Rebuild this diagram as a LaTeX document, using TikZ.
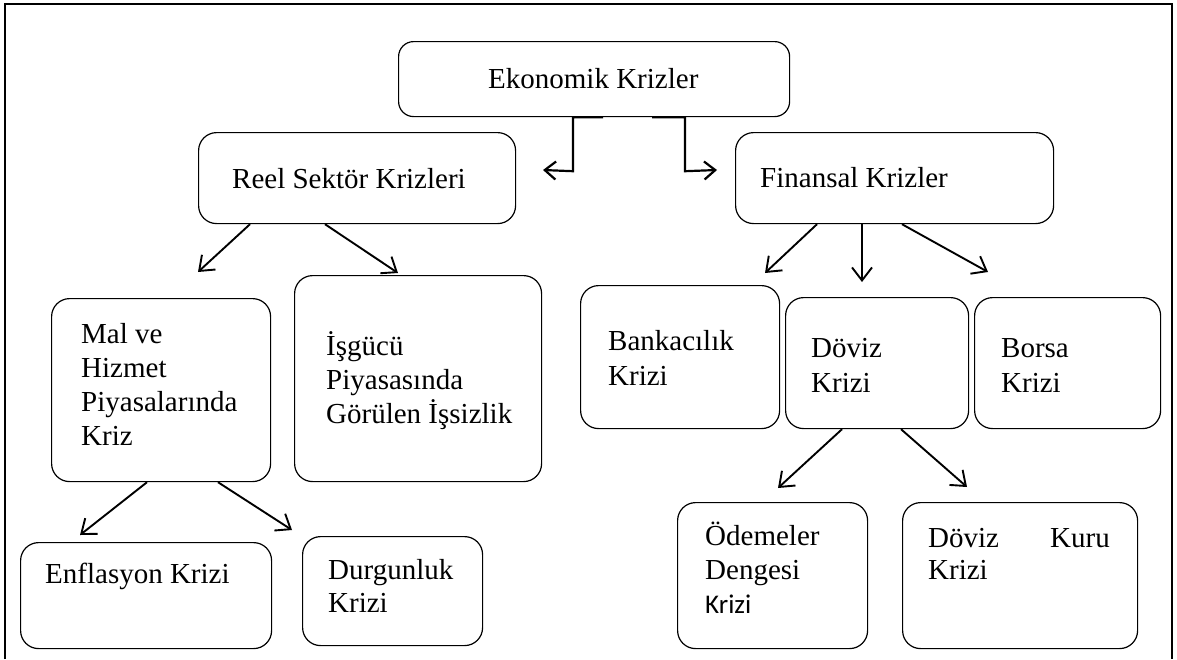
\documentclass[tikz,border=0pt]{standalone}
\usepackage{fontspec}
\setmainfont{Liberation Serif}
\newfontfamily\calfont{Carlito}
\usetikzlibrary{arrows.meta}
\begin{document}
\begin{tikzpicture}[x=1pt,y=-1pt,
  box/.style={draw, line width=1.2pt, rounded corners=18pt, inner sep=0pt, anchor=north west},
  txt/.style={anchor=base west, inner sep=0pt, font=\fontsize{29}{34}\selectfont},
  ctxt/.style={anchor=base west, inner sep=0pt, font=\calfont\fontsize{27}{32}\selectfont},
  arr/.style={line width=1.9pt, -{Straight Barb[length=13pt,width=20pt,line width=1.9pt]}},
  elb/.style={line width=2.2pt, -{Straight Barb[length=11pt,width=18pt,line width=2.2pt]}}]
\useasboundingbox (0,0) rectangle (1177,659);
\draw[line width=1.4pt] (5,659) -- (5,4) -- (1172,4) -- (1172,659);

% boxes
\node[box, rounded corners=15pt, minimum width=391pt, minimum height=75pt] (eko) at (398,41) {};
\node[box, minimum width=317pt, minimum height=91pt] (reel) at (198,132) {};
\node[box, minimum width=318pt, minimum height=91pt] (fin) at (735,132) {};
\node[box, minimum width=219pt, minimum height=183pt] (mal) at (51,298) {};
\node[box, minimum width=247pt, minimum height=206pt] (isg) at (294,275) {};
\node[box, minimum width=199pt, minimum height=143pt] (bank) at (580,285) {};
\node[box, minimum width=183pt, minimum height=131pt] (dov) at (785,297) {};
\node[box, minimum width=186pt, minimum height=131pt] (bor) at (974,297) {};
\node[box, minimum width=251pt, minimum height=106pt] (enf) at (20,542) {};
\node[box, minimum width=180pt, minimum height=109pt] (dur) at (302,536) {};
\node[box, minimum width=190pt, minimum height=146pt] (ode) at (677,502) {};
\node[box, minimum width=235pt, minimum height=146pt] (kur) at (902,502) {};

% texts
\node[txt] (ekoT) at (488,88) {Ekonomik Krizler};
\node[txt] (reelT) at (232,188) {Reel Sektör Krizleri};
\node[txt] (finT) at (760,187) {Finansal Krizler};
\node[txt] (malT1) at (81,343) {Mal ve};
\node[txt] (malT2) at (81,377) {Hizmet};
\node[txt] (malT3) at (81,411) {Piyasalarında};
\node[txt] (malT4) at (81,445) {Kriz};
\node[txt] (isgT1) at (326,355) {İşgücü};
\node[txt] (isgT2) at (326,389) {Piyasasında};
\node[txt] (isgT3) at (326,423) {Görülen İşsizlik};
\node[txt] (bankT1) at (608,350) {Bankacılık};
\node[txt] (bankT2) at (608,385) {Krizi};
\node[txt] (dovT1) at (811,357) {Döviz};
\node[txt] (dovT2) at (811,392) {Krizi};
\node[txt] (borT1) at (1001,357) {Borsa};
\node[txt] (borT2) at (1001,392) {Krizi};
\node[txt] (enfT) at (45,583) {Enflasyon Krizi};
\node[txt] (durT1) at (328,579) {Durgunluk};
\node[txt] (durT2) at (328,612) {Krizi};
\node[txt] (odeT1) at (705,545) {Ödemeler};
\node[txt] (odeT2) at (705,579) {Dengesi};
\node[ctxt] (odeT3) at (705,613) {Krizi};
\node[txt] (kurT1) at (928,547) {Döviz};
\node[txt] (kurT2) at (1050,547) {Kuru};
\node[txt] (kurT3) at (928,579) {Krizi};

% arrow tips
\coordinate (tl) at (543,170);
\coordinate (tr) at (717,170);
\coordinate (t1) at (198,272);
\coordinate (t2) at (398,273);
\coordinate (t3) at (765,273);
\coordinate (t4) at (862,282);
\coordinate (t5) at (988,272);
\coordinate (t6) at (80,535);
\coordinate (t7) at (292,530);
\coordinate (t8) at (778,488);
\coordinate (t9) at (967,487);

% connectors
\draw[elb] ([xshift=205pt]eko.south west) -- ++(-30,0) -- ++(0,54) -- (tl);
\draw[elb] ([xshift=254pt]eko.south west) -- ++(33,0) -- ++(0,54) -- (tr);
\draw[arr] ([xshift=52pt]reel.south west) -- (t1);
\draw[arr] ([xshift=127pt]reel.south west) -- (t2);
\draw[arr] ([xshift=82pt]fin.south west) -- (t3);
\draw[arr] ([xshift=127pt]fin.south west) -- (t4);
\draw[arr] ([xshift=167pt]fin.south west) -- (t5);
\draw[arr] ([xshift=96pt]mal.south west) -- (t6);
\draw[arr] ([xshift=167pt]mal.south west) -- (t7);
\draw[arr] ([xshift=57pt]dov.south west) -- (t8);
\draw[arr] ([xshift=116pt]dov.south west) -- (t9);
\end{tikzpicture}
\end{document}
